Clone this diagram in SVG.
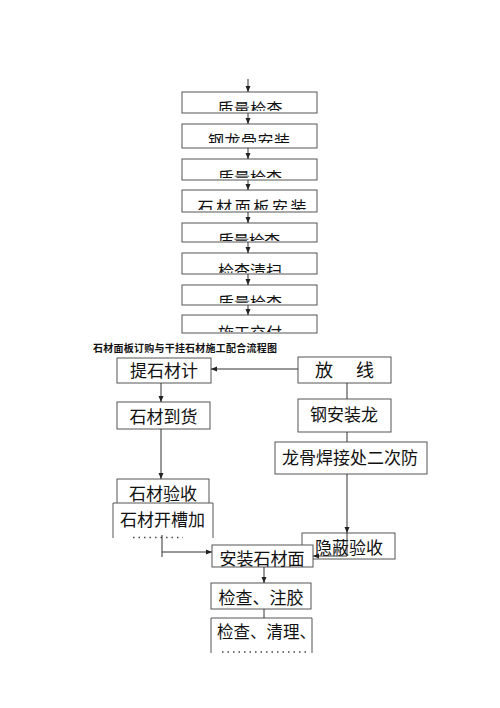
<svg xmlns="http://www.w3.org/2000/svg" width="500" height="708" viewBox="0 0 500 708">
<style>
.bx{fill:#fff;stroke:#555;stroke-width:1}
.ob{fill:none;stroke:#555;stroke-width:1}
.t{font-family:"Liberation Sans","Noto Sans CJK SC",sans-serif;fill:#111}
.tt{font-size:16px;text-anchor:middle}
.lt{font-size:17px;text-anchor:middle}
.ln{fill:none;stroke:#333;stroke-width:1}
.fr{fill:none;stroke:#444;stroke-width:1.5;stroke-dasharray:1.5 4}
</style>
<defs>
<marker id="ah" markerUnits="userSpaceOnUse" markerWidth="6" markerHeight="6" refX="6" refY="3" orient="auto"><path d="M0,0.5 L6,3 L0,5.5 z" fill="#222"/></marker>
<clipPath id="c1"><rect x="183" y="93" width="133" height="18"/></clipPath>
<clipPath id="c2"><rect x="183" y="125" width="133" height="18"/></clipPath>
<clipPath id="c3"><rect x="183" y="160" width="133" height="18"/></clipPath>
<clipPath id="c4"><rect x="180" y="191" width="140" height="19"/></clipPath>
<clipPath id="c5"><rect x="183" y="224" width="133" height="17"/></clipPath>
<clipPath id="c6"><rect x="183" y="254" width="133" height="19"/></clipPath>
<clipPath id="c7"><rect x="183" y="286" width="133" height="17"/></clipPath>
<clipPath id="c8"><rect x="183" y="316" width="133" height="16"/></clipPath>
</defs>
<rect width="500" height="708" fill="#fff"/>

<g id="top1"><rect class="bx" x="182" y="92" width="135" height="21"/><text class="t tt" x="250" y="114.5" textLength="65" clip-path="url(#c1)">质量检查</text></g>
<g id="top2"><rect class="bx" x="182" y="124" width="135" height="24"/><text class="t tt" x="249" y="146.5" textLength="82" clip-path="url(#c2)">钢龙骨安装</text></g>
<g id="top3"><rect class="bx" x="182" y="159" width="135" height="21"/><text class="t tt" x="250" y="183.5" textLength="64" clip-path="url(#c3)">质量检查</text></g>
<g id="top4"><rect class="bx" x="182" y="190" width="135" height="22"/><text class="t tt" x="252" y="212.5" textLength="109" clip-path="url(#c4)">石材面板安装</text></g>
<g id="top5"><rect class="bx" x="182" y="223" width="135" height="19"/><text class="t tt" x="249" y="246.5" textLength="62" clip-path="url(#c5)">质量检查</text></g>
<g id="top6"><rect class="bx" x="182" y="253" width="135" height="21"/><text class="t tt" x="250" y="276.5" textLength="64" clip-path="url(#c6)">检查清扫</text></g>
<g id="top7"><rect class="bx" x="182" y="285" width="135" height="20"/><text class="t tt" x="250" y="308.5" textLength="64" clip-path="url(#c7)">质量检查</text></g>
<g id="top8"><rect class="bx" x="182" y="315" width="135" height="18"/><text class="t tt" x="250" y="338.5" textLength="64" clip-path="url(#c8)">施工交付</text></g>

<g id="title"><text class="t" x="93" y="352" font-size="10" font-weight="bold" textLength="184" fill="#222">石材面板订购与干挂石材施工配合流程图</text></g>

<g id="n-tishi"><rect class="bx" x="117" y="358" width="94" height="25"/><text class="t lt" x="164" y="377">提石材计</text></g>
<g id="n-fangxian"><rect class="bx" x="298" y="357" width="93" height="26"/><text class="t" x="315" y="377" font-size="18" xml:space="preserve">放　 线</text></g>
<g id="n-daohuo"><rect class="bx" x="117" y="402" width="93" height="27"/><text class="t lt" x="163.5" y="423">石材到货</text></g>
<g id="n-gang"><rect class="bx" x="298" y="399" width="93" height="33"/><text class="t lt" x="344" y="421">钢安装龙</text></g>
<g id="n-hanjie"><rect class="bx" x="275" y="442" width="152" height="32"/><text class="t lt" x="350" y="464">龙骨焊接处二次防</text></g>
<g id="n-yanshou"><rect class="bx" x="117" y="479" width="92" height="25"/><text class="t lt" x="163" y="500">石材验收</text></g>
<g id="n-kaicao"><rect x="113" y="503" width="100" height="35" fill="#fff"/><path class="ob" d="M113,538 V503 H213 V538"/><path class="fr" d="M133,537.5 H183"/><text class="t lt" x="162.5" y="526">石材开槽加</text></g>
<g id="n-yinbi"><rect class="bx" x="302" y="533" width="93" height="26"/><text class="t lt" x="349" y="554">隐蔽验收</text></g>
<g id="n-anzhuang"><rect class="bx" x="212" y="545" width="101" height="22"/><text class="t lt" x="262" y="565">安装石材面</text></g>
<g id="n-zhujiao"><rect class="bx" x="211" y="583" width="100" height="26"/><text class="t lt" x="261" y="604">检查、注胶</text></g>
<g id="n-qingli"><rect x="211" y="618" width="101" height="35" fill="#fff"/><path class="ob" d="M211,653 V618 H312 V653"/><path class="fr" d="M222,652 H307"/><text class="t" x="217" y="638" font-size="16.5">检查、清理、</text></g>

<g id="connectors">
<path class="ln" d="M248,79 V92" marker-end="url(#ah)"/>
<path class="ln" d="M248,113 V124" marker-end="url(#ah)"/>
<path class="ln" d="M248,148 V159" marker-end="url(#ah)"/>
<path class="ln" d="M248,180 V190" marker-end="url(#ah)"/>
<path class="ln" d="M248,212 V223" marker-end="url(#ah)"/>
<path class="ln" d="M248,242 V253" marker-end="url(#ah)"/>
<path class="ln" d="M248,274 V285" marker-end="url(#ah)"/>
<path class="ln" d="M248,305 V315" marker-end="url(#ah)"/>
<path class="ln" d="M298,369 H211" marker-end="url(#ah)"/>
<path class="ln" d="M161,383 V402" marker-end="url(#ah)"/>
<path class="ln" d="M161,429 V479" marker-end="url(#ah)"/>
<path class="ln" d="M347,383 V399"/>
<path class="ln" d="M347,432 V442"/>
<path class="ln" d="M347,474 V533" marker-end="url(#ah)"/>
<path class="ln" d="M347,533 V556 H313" marker-end="url(#ah)"/>
<path class="ln" d="M162,535 V557"/>
<path class="ln" d="M162,552 H212" marker-end="url(#ah)"/>
<path class="ln" d="M264,567 V583" marker-end="url(#ah)"/>
<path class="ln" d="M264,609 V618"/>
</g>
</svg>
